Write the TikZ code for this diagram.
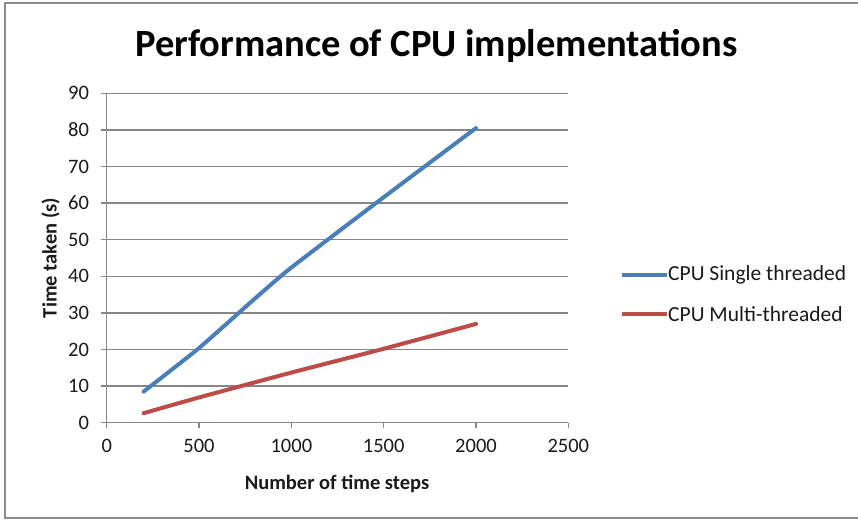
\documentclass[tikz,border=0pt]{standalone}
\usepackage{fontspec}
\setmainfont{Carlito}
\definecolor{gridgray}{HTML}{868686}
\definecolor{framegray}{HTML}{8C8C8C}
\definecolor{serblue}{HTML}{4A7EBB}
\definecolor{serred}{HTML}{BE4B48}
\definecolor{txt}{HTML}{1A1A1A}
\tikzset{
  gridline/.style={draw=gridgray, line width=1.3pt},
  ticklab/.style={font=\fontsize{20.5}{24}\selectfont, text=txt, inner sep=0pt},
  axtitle/.style={font=\fontsize{20.5}{24}\selectfont\bfseries, text=txt, inner sep=0pt},
  series/.style={line width=4pt, line cap=round, line join=round},
  legtext/.style={font=\fontsize{21.5}{25}\selectfont, text=txt, inner sep=0pt, anchor=west}
}
\begin{document}
\begin{tikzpicture}[x=1pt, y=-1pt]
\useasboundingbox (0,0) rectangle (858,520);
\fill[white] (0,0) rectangle (858,520);
% chart frame (its right edge lies past the page)
\draw[framegray, line width=2pt] (5,3) rectangle (880,518);

% title
\node[font=\fontsize{38.5}{44}\selectfont\bfseries, text=black, inner sep=0pt, anchor=base] (title) at (436.5,56.7) {Performance of CPU implementations};

% plot area: x data units 0..2500, y data units 0..90
\begin{scope}[shift={(106.7,422.7)}, x=0.18464pt, y=3.66pt]
  % horizontal grid lines with ticks
  \foreach \v in {10,20,...,90}
    \draw[gridline] (-30,\v) -- (2500,\v);
  % axes
  \draw[gridline] (-30,0) -- (2500,0);
  \draw[gridline] (0,-1.5) -- (0,90);
  \foreach \u in {500,1000,...,2500}
    \draw[gridline] (\u,0) -- (\u,-1.5);
  % y tick labels
  \foreach \v in {0,10,...,90}
    \node[ticklab, anchor=east] (ylab\v) at (-95,\v) {\v};
  % x tick labels
  \foreach \u in {0,500,...,2500}
    \node[ticklab, anchor=base] (xlab\u) at (\u,-8.1) {\u};

  % data series
  \draw[series, serblue] plot[smooth, tension=0.3] coordinates {(200,8.5) (500,20.4) (800,33.8) (1000,42.4) (1500,61.6) (2000,80.5)};
  \draw[series, serred] plot[smooth, tension=0.3] coordinates {(200,2.6) (500,6.9) (1000,13.7) (1500,20.2) (2000,27)};
\end{scope}

% axis titles
\node[axtitle, anchor=base] (xtitle) at (337,489) {Number of time steps};
\node[axtitle, rotate=90, anchor=base] (ytitle) at (56.5,258) {Time taken (s)};

% legend
\draw[serblue, line width=4pt] (622,275) -- (667,275);
\node[legtext] (leg1) at (668,275) {CPU Single threaded};
\draw[serred, line width=4pt] (622,314) -- (667,314);
\node[legtext] (leg2) at (668,314) {CPU Multi-threaded};
\end{tikzpicture}
\end{document}
